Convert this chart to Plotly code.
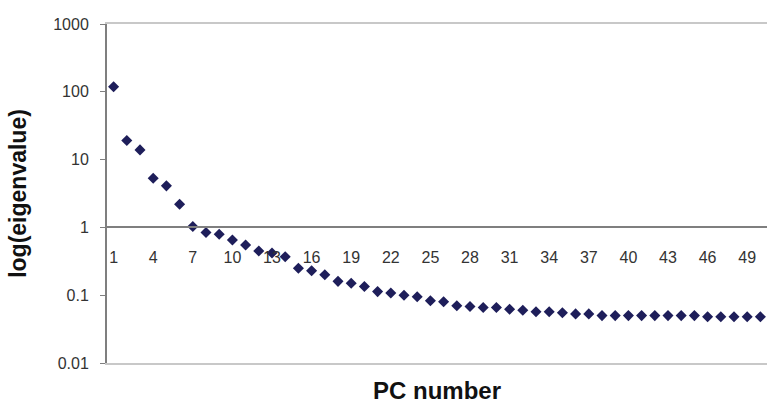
import plotly.graph_objects as go

# Eigenvalue spectrum of the principal components (scree plot, log scale)
pc_number = list(range(1, 51))
eigenvalue = [
    119, 19.1, 13.9, 5.3, 4.1, 2.2, 1.03, 0.84, 0.79, 0.65,
    0.55, 0.45, 0.42, 0.37, 0.25, 0.23, 0.20, 0.16, 0.15, 0.134,
    0.113, 0.108, 0.100, 0.095, 0.083, 0.080, 0.070, 0.068, 0.066, 0.066,
    0.062, 0.060, 0.057, 0.057, 0.055, 0.053, 0.053, 0.050, 0.050, 0.050,
    0.050, 0.050, 0.050, 0.050, 0.050, 0.048, 0.048, 0.048, 0.048, 0.048,
]
x_ticks = list(range(1, 50, 3))
x_tick_text = [str(v) for v in x_ticks]
y_ticks = [0.01, 0.1, 1, 10, 100, 1000]
y_tick_text = ["0.01", "0.1", "1", "10", "100", "1000"]

FONT = "Liberation Sans, Arial, sans-serif"

fig = go.Figure()
fig.add_trace(go.Scatter(
    x=pc_number, y=eigenvalue, mode="markers",
    marker=dict(symbol="diamond", size=8.5, color="#1e1e5a"),
    showlegend=False, cliponaxis=False,
))
# invisible trace so the crossing axis (at y = 1) gets drawn
fig.add_trace(go.Scatter(x=[1], y=[1], xaxis="x2", mode="markers",
                         marker=dict(opacity=0), showlegend=False, hoverinfo="skip"))

fig.update_layout(
    width=769, height=408,
    margin=dict(l=107, r=2, t=24, b=45),
    paper_bgcolor="white", plot_bgcolor="white",
    font=dict(family=FONT, color="#333333"),
    xaxis=dict(
        range=[0.5, 50.5], showgrid=False, zeroline=False,
        showline=True, mirror=True, linecolor="#c8c8c8", linewidth=1.5,
        showticklabels=False, ticks="",
        title=dict(text="<b>PC number</b>", font=dict(size=24, color="#111111"), standoff=18),
    ),
    xaxis2=dict(
        overlaying="x", matches="x", anchor="free", position=0.4,
        range=[0.5, 50.5], showgrid=False, zeroline=False,
        showline=True, linecolor="#7f7f7f", linewidth=1.5,
        tickmode="array", tickvals=x_ticks, ticktext=x_tick_text,
        ticks="outside", ticklen=16, tickcolor="rgba(0,0,0,0)", side="bottom",
        tickfont=dict(size=16, color="#333333"),
    ),
    yaxis=dict(
        type="log", range=[-2, 3], showgrid=False, zeroline=False,
        showline=True, linecolor="#7f7f7f", linewidth=2,
        tickmode="array", tickvals=y_ticks, ticktext=y_tick_text,
        ticks="outside", ticklen=5, tickcolor="#7f7f7f",
        ticklabelstandoff=8,
        tickfont=dict(size=16, color="#333333"),
        title=dict(text="<b>log(eigenvalue)</b>", font=dict(size=23, color="#111111"), standoff=20),
    ),
)

fig.write_html("out.html")
